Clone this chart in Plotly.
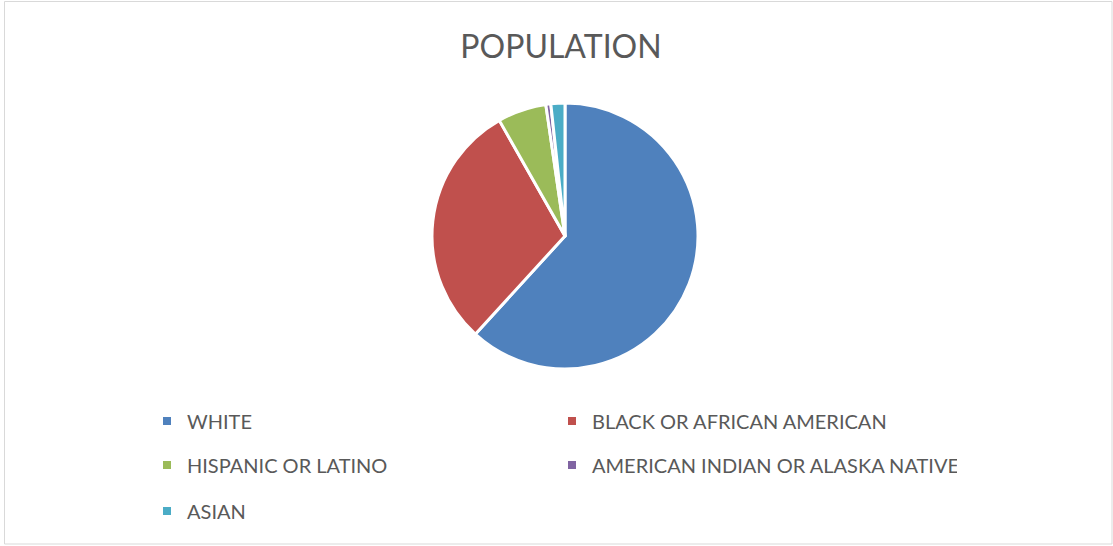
import plotly.graph_objects as go

categories = ["WHITE", "BLACK OR AFRICAN AMERICAN", "HISPANIC OR LATINO",
              "AMERICAN INDIAN OR ALASKA NATIVE", "ASIAN"]
values = [61.6, 29.9, 5.9, 0.6, 1.7]
colors = ["#4F81BD", "#C0504D", "#9BBB59", "#8064A2", "#4BACC6"]
title_text = "POPULATION"

W, H = 1113, 546
FONT = "Lato"
TXT = "#595959"

fig = go.Figure()
cx, cy, r = 565, 236, 133
fig.add_trace(go.Pie(
    labels=categories, values=values, sort=False, direction="clockwise", rotation=0,
    marker=dict(colors=colors, line=dict(color="white", width=3)),
    textinfo="none", hoverinfo="label+value", showlegend=False,
    domain=dict(x=[(cx - r) / W, (cx + r) / W], y=[(H - cy - r) / H, (H - cy + r) / H]),
))

# legend entries in three rows, two columns
rows = [[0, 1], [2, 3], [4]]
row_y = [421, 465, 511]
legend_layouts = {}
for ri, idxs in enumerate(rows):
    lname = "legend" if ri == 0 else f"legend{ri + 1}"
    for i in idxs:
        fig.add_trace(go.Scatter(
            x=[None], y=[None], mode="markers", name=categories[i],
            marker=dict(symbol="square", size=8, color=colors[i]),
            legend=lname, showlegend=True, hoverinfo="skip",
        ))
    legend_layouts[lname] = dict(
        orientation="h", x=147 / W, xanchor="left", y=(H - row_y[ri]) / H, yanchor="middle",
        entrywidth=360, entrywidthmode="pixels", itemwidth=30,
        font=dict(family=FONT, size=20, color=TXT), bgcolor="rgba(0,0,0,0)",
        itemclick=False, itemdoubleclick=False,
    )

fig.update_layout(
    width=W, height=H,
    margin=dict(l=0, r=0, t=0, b=0),
    paper_bgcolor="white", plot_bgcolor="white",
    xaxis=dict(visible=False), yaxis=dict(visible=False),
    title=dict(text=title_text, x=561 / W, xanchor="center", y=(H - 47) / H, yanchor="middle",
               font=dict(family=FONT, size=32, color=TXT)),
    shapes=[dict(type="rect", xref="paper", yref="paper",
                 x0=4.5 / W, x1=1112 / W, y0=(H - 544) / H, y1=(H - 1.5) / H,
                 line=dict(color="#D9D9D9", width=1), fillcolor="rgba(0,0,0,0)")],
    **legend_layouts,
)

fig.write_html("out.html", config={"displayModeBar": False},
               post_script="document.body.style.margin='0';")
